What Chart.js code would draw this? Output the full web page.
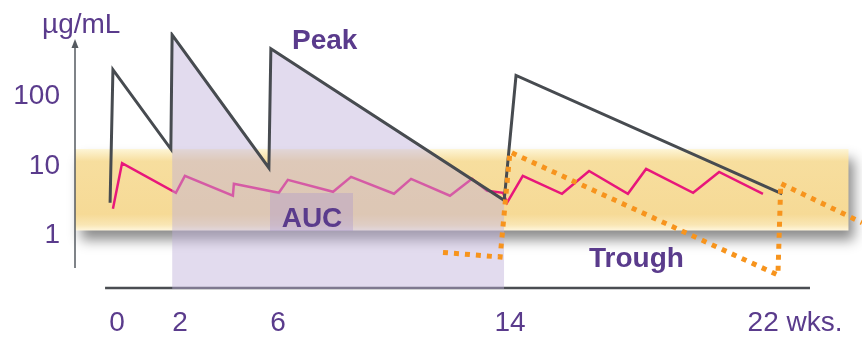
<!DOCTYPE html>
<html>
<head>
<meta charset="utf-8">
<script src="https://cdn.jsdelivr.net/npm/chart.js@4.4.1/dist/chart.umd.min.js"></script>
<style>
html, body { margin: 0; padding: 0; background: #fff; }
canvas { display: block; }
</style>
</head>
<body>
<canvas id="mychart" width="862" height="339"></canvas>
<script>
// x = weeks, y = µg/mL (log)
const weekTicks = [0, 2, 6, 14, 22]
const concTicks = [1, 10, 100]

// dark line: doses at 0, 2, 6, 14, decay towards 22
const peakWeeks = [-0.22, -0.13, 1.71, 1.75, 5.63, 5.71, 13.8, 14.17, 21.64]
const peakConc = [2.96, 243, 17.5, 769, 9.36, 485, 3.2, 200, 3.98]

// pink line
const pinkWeeks = [-0.13, 0.16, 1.87, 2.2, 4.16, 4.2, 6.03, 6.34, 7.9, 8.52, 10.0, 10.59, 11.93, 12.69, 13.21, 13.76, 13.9, 14.36, 15.46, 16.22, 17.31, 17.82, 19.14, 19.87, 21.1]
const pinkConc = [2.43, 11.0, 4.11, 7.2, 3.73, 5.53, 4.11, 6.31, 4.25, 6.96, 3.98, 6.52, 3.73, 6.52, 4.39, 4.11, 2.96, 7.2, 3.98, 8.48, 3.98, 9.06, 4.11, 8.2, 3.98]

// orange dotted trough line
const troughWeeks = [11.69, 13.66, 14.0, 21.52, 21.6, 23.88]
const troughConc = [0.57, 0.49, 15.9, 0.27, 5.6, 1.53]

// yellow target band
const bandWeeks = [-1.4, 23.5]
const bandConc = [1.18, 17.5]

const pts = (xs, ys) => xs.map((v, i) => ({x: v, y: ys[i]}))

// x axis is a stretched (piecewise) week scale like the drawing
const knotPos = [0.0534, 0.1334, 0.2579, 0.5527, 0.9149]
const weekToFrac = (w) => {
    const k = weekTicks
    if (w <= k[0]) return knotPos[0] + (w - k[0]) * (knotPos[1] - knotPos[0]) / (k[1] - k[0])
    for (let i = 1; i < k.length; i++) {
        if (w <= k[i]) return knotPos[i - 1] + (w - k[i - 1]) * (knotPos[i] - knotPos[i - 1]) / (k[i] - k[i - 1])
    }
    const n = k.length - 1
    return knotPos[n] + (w - k[n]) * (knotPos[n] - knotPos[n - 1]) / (k[n] - k[n - 1])
}
const fracToWeek = (f) => {
    const k = weekTicks
    let i = 1
    while (i < k.length - 1 && f > knotPos[i]) i++
    return k[i - 1] + (f - knotPos[i - 1]) * (k[i] - k[i - 1]) / (knotPos[i] - knotPos[i - 1])
}

const LinearScale = Chart.LinearScale || Chart.registry.getScale('linear')
class StretchScale extends LinearScale {
    getPixelForValue(value) {
        if (value === null || value === undefined) return NaN
        return this.left + this.width * weekToFrac(value)
    }
    getValueForPixel(pixel) {
        return fracToWeek((pixel - this.left) / this.width)
    }
}
StretchScale.id = 'stretch'
Chart.register(StretchScale)

const purple = '#5a3b8c'
const font = 'Liberation Sans, Arial, sans-serif'

const decor = {
    id: 'decor',
    beforeDatasetsDraw(chart) {
        const {ctx, chartArea, scales: {x, y}} = chart
        const x0 = chartArea.left, x1 = x.getPixelForValue(bandWeeks[1])
        const y0 = y.getPixelForValue(bandConc[1]), y1 = y.getPixelForValue(bandConc[0])
        ctx.save()
        ctx.shadowColor = 'rgba(0,0,0,0.45)'
        ctx.shadowBlur = 12
        ctx.shadowOffsetX = 6
        ctx.shadowOffsetY = 10
        const g = ctx.createLinearGradient(0, y0, 0, y1)
        g.addColorStop(0, '#fdf5d6')
        g.addColorStop(0.15, '#f7de9e')
        g.addColorStop(0.8, '#f6da96')
        g.addColorStop(0.93, '#f9e6b4')
        g.addColorStop(1, '#fff6dc')
        ctx.fillStyle = g
        ctx.fillRect(x0, y0, x1 - x0, y1 - y0)
        ctx.restore()

        // axes
        ctx.save()
        ctx.strokeStyle = '#555a60'
        ctx.lineWidth = 1.5
        ctx.beginPath()
        ctx.moveTo(chartArea.left, chartArea.bottom - 21)
        ctx.lineTo(chartArea.left, 46)
        ctx.stroke()
        ctx.fillStyle = '#555a60'
        ctx.beginPath()
        ctx.moveTo(chartArea.left, 39)
        ctx.lineTo(chartArea.left - 3.5, 48)
        ctx.lineTo(chartArea.left + 3.5, 48)
        ctx.closePath()
        ctx.fill()
        ctx.strokeStyle = '#4a4d52'
        ctx.lineWidth = 2.5
        ctx.beginPath()
        ctx.moveTo(x.getPixelForValue(-0.38), chartArea.bottom - 1)
        ctx.lineTo(x.getPixelForValue(22.42), chartArea.bottom - 1)
        ctx.stroke()
        ctx.restore()
    },
    afterDatasetsDraw(chart) {
        const {ctx} = chart
        ctx.save()
        ctx.fillStyle = 'rgba(170,150,205,0.35)'
        ctx.fillRect(270, 193, 83, 38)
        ctx.fillStyle = purple
        ctx.font = 'bold 28px ' + font
        ctx.textBaseline = 'alphabetic'
        ctx.textAlign = 'center'
        ctx.fillText('AUC', 312, 227)
        ctx.textAlign = 'left'
        ctx.fillText('Peak', 292, 49)
        ctx.fillText('Trough', 589, 267)
        ctx.font = '28px ' + font
        ctx.fillText('µg/mL', 42, 33)
        ctx.restore()
    }
}

const config = {
    type: 'line',
    data: {
        datasets: [
            {
                data: pts(troughWeeks, troughConc),
                borderColor: '#f7941d',
                borderWidth: 5,
                borderDash: [5, 6],
                borderCapStyle: 'butt',
                pointRadius: 0,
                fill: false,
                order: 0
            },
            {
                data: pts(peakWeeks, peakConc),
                borderColor: '#474b50',
                borderWidth: 3,
                pointRadius: 0,
                fill: false,
                order: 1
            },
            {
                data: pts(peakWeeks.slice(3, 7), peakConc.slice(3, 7)),
                borderWidth: 0,
                borderColor: 'rgba(0,0,0,0)',
                backgroundColor: 'rgba(191,175,217,0.45)',
                pointRadius: 0,
                fill: 'start',
                order: 2
            },
            {
                data: pts(pinkWeeks, pinkConc),
                borderColor: '#e8177b',
                borderWidth: 2.5,
                pointRadius: 0,
                fill: false,
                order: 3
            }
        ]
    },
    options: {
        responsive: false,
        animation: false,
        events: [],
        layout: {padding: {top: 30, left: 0, right: 0, bottom: 0}},
        plugins: {legend: {display: false}, tooltip: {enabled: false}},
        scales: {
            x: {
                type: 'stretch',
                min: -1.33,
                max: 23.88,
                afterFit: (s) => { s.height = 50 },
                afterBuildTicks: (s) => { s.ticks = weekTicks.map(v => ({value: v})) },
                grid: {display: false, drawTicks: false},
                border: {display: false},
                ticks: {
                    autoSkip: false,
                    maxRotation: 0,
                    padding: 17,
                    color: purple,
                    font: {family: font, size: 28},
                    callback: (v) => v === 22 ? '22 wks.' : String(v)
                }
            },
            y: {
                type: 'logarithmic',
                min: 0.17,
                max: 850,
                afterFit: (s) => { s.width = 75 },
                afterBuildTicks: (s) => { s.ticks = concTicks.map(v => ({value: v})) },
                grid: {display: false, drawTicks: false},
                border: {display: false},
                ticks: {
                    padding: 15,
                    color: purple,
                    font: {family: font, size: 28},
                    callback: (v) => String(v)
                }
            }
        }
    },
    plugins: [decor]
}

const mychart = new Chart(document.querySelector('#mychart'), config)
</script>
</body>
</html>
